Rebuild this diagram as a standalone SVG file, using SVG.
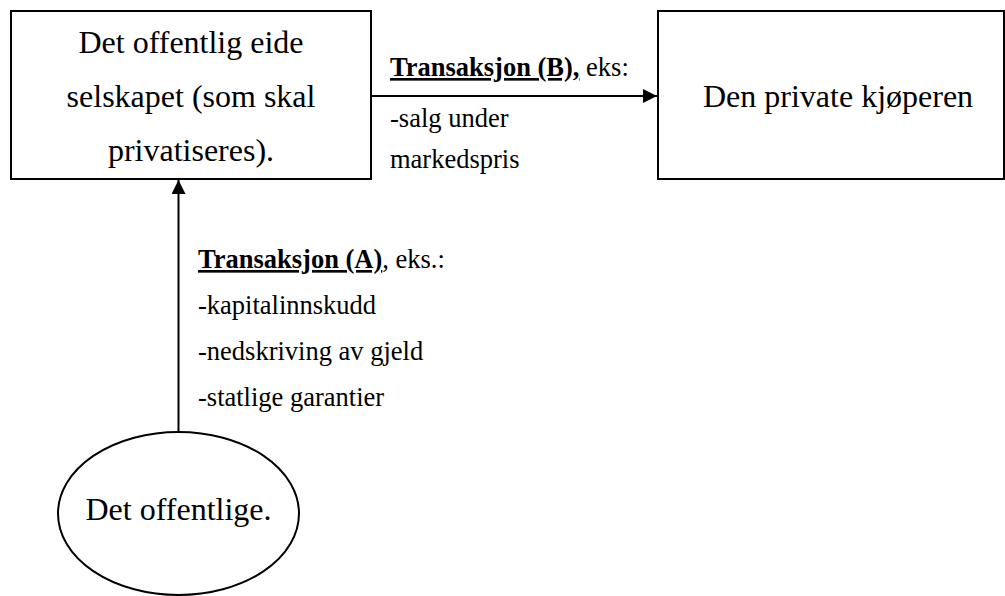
<svg xmlns="http://www.w3.org/2000/svg" width="1005" height="596" viewBox="0 0 1005 596">
  <style>
    .shape { fill: #ffffff; stroke: #000000; stroke-width: 2; }
    .edge { stroke: #000000; stroke-width: 2; fill: none; }
    .node-text { font-family: "Liberation Serif", serif; font-size: 32px; fill: #000000; }
    .label { font-family: "Liberation Serif", serif; font-size: 26.5px; fill: #000000; }
    .head { font-weight: bold; text-decoration: underline; }
    .uline { text-decoration: underline; }
  </style>
  <defs>
    <marker id="arrow" viewBox="0 0 10 10" refX="10" refY="5" markerWidth="7" markerHeight="7" markerUnits="strokeWidth" orient="auto">
      <path d="M0,0 L10,5 L0,10 Z" fill="#000000"/>
    </marker>
  </defs>
  <rect width="1005" height="596" fill="#ffffff"/>

  <!-- arrows between the parties -->
  <g id="connectors">
    <line class="edge" x1="371" y1="96" x2="657" y2="96" marker-end="url(#arrow)"/>
    <line class="edge" x1="178.5" y1="432" x2="178.5" y2="180" marker-end="url(#arrow)"/>
  </g>

  <g id="company">
    <rect class="shape" x="11" y="11" width="360" height="168"/>
    <text class="node-text" x="191" y="53" text-anchor="middle">Det offentlig eide</text>
    <text class="node-text" x="191" y="107" text-anchor="middle">selskapet (som skal</text>
    <text class="node-text" x="191" y="161" text-anchor="middle">privatiseres).</text>
  </g>

  <g id="buyer">
    <rect class="shape" x="658" y="11" width="346" height="168"/>
    <text class="node-text" x="703" y="107">Den private kjøperen</text>
  </g>

  <g id="public">
    <ellipse class="shape" cx="178.5" cy="513.5" rx="120.5" ry="81.5"/>
    <text class="node-text" x="178.5" y="520" text-anchor="middle">Det offentlige.</text>
  </g>

  <g id="label-b">
    <text class="label" x="390" y="76"><tspan class="head">Transaksjon (B),</tspan> eks:</text>
    <text class="label" x="390" y="127">-salg under</text>
    <text class="label" x="390" y="168">markedspris</text>
  </g>

  <g id="label-a">
    <text class="label" x="198" y="268"><tspan class="head">Transaksjon (A)</tspan><tspan class="uline">,</tspan> eks.:</text>
    <text class="label" x="198" y="314">-kapitalinnskudd</text>
    <text class="label" x="198" y="360">-nedskriving av gjeld</text>
    <text class="label" x="198" y="406">-statlige garantier</text>
  </g>
</svg>
